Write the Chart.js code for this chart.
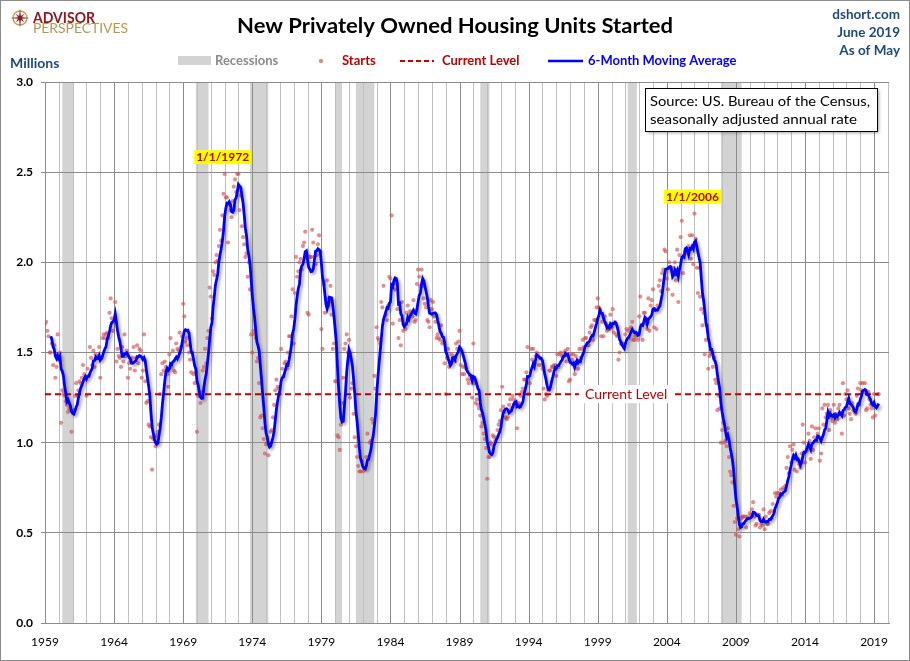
<!DOCTYPE html>
<html>
<head>
<meta charset="utf-8">
<title>New Privately Owned Housing Units Started</title>
<script src="https://cdn.jsdelivr.net/npm/chart.js@4.4.1/dist/chart.umd.min.js"></script>
<style>
    body { margin: 0; background: #ffffff; }
    #wrap { width: 910px; height: 661px; position: relative; }
    canvas { display: block; }
</style>
</head>
<body>
<div id="wrap">
    <canvas id="housingChart" width="910" height="661"></canvas>
</div>
<script>
// ==========================================
// DATA (millions of units, SAAR, monthly from Jan 1959)
// ==========================================

const firstYear = 1959;
const lastGridYear = 2020;

const starts = [
    1.66, 1.67, 1.62, 1.59, 1.50, 1.50, 1.55, 1.43, 1.54, 1.36, 1.42, 1.60, // 1959
    1.46, 1.50, 1.11, 1.29, 1.27, 1.26, 1.23, 1.21, 1.17, 1.19, 1.18, 1.06, // 1960
    1.17, 1.18, 1.26, 1.33, 1.26, 1.29, 1.34, 1.33, 1.36, 1.43, 1.38, 1.36, // 1961
    1.26, 1.41, 1.37, 1.53, 1.47, 1.43, 1.51, 1.42, 1.49, 1.47, 1.48, 1.53, // 1962
    1.36, 1.47, 1.58, 1.60, 1.58, 1.60, 1.61, 1.58, 1.72, 1.80, 1.69, 1.62, // 1963
    1.67, 1.78, 1.45, 1.52, 1.48, 1.47, 1.42, 1.53, 1.45, 1.60, 1.48, 1.51, // 1964
    1.36, 1.44, 1.41, 1.45, 1.47, 1.53, 1.40, 1.47, 1.54, 1.44, 1.52, 1.51, // 1965
    1.36, 1.40, 1.60, 1.34, 1.22, 1.23, 1.10, 1.09, 1.03, 0.85, 1.02, 1.03, // 1966
    0.98, 1.04, 1.06, 1.10, 1.27, 1.38, 1.44, 1.40, 1.45, 1.42, 1.38, 1.31, // 1967
    1.49, 1.58, 1.42, 1.51, 1.40, 1.39, 1.55, 1.52, 1.51, 1.61, 1.53, 1.59, // 1968
    1.77, 1.70, 1.56, 1.58, 1.54, 1.50, 1.46, 1.39, 1.50, 1.38, 1.33, 1.39, // 1969
    1.06, 1.26, 1.26, 1.22, 1.28, 1.40, 1.42, 1.52, 1.44, 1.58, 1.62, 1.86, // 1970
    1.81, 1.69, 1.95, 1.93, 2.00, 2.04, 2.01, 2.09, 2.18, 2.12, 2.26, 2.38, // 1971
    2.49, 2.36, 2.36, 2.11, 2.32, 2.29, 2.25, 2.34, 2.42, 2.46, 2.39, 2.49, // 1972
    2.49, 2.29, 2.37, 2.20, 2.14, 2.10, 2.03, 2.05, 1.92, 2.00, 1.85, 1.60, // 1973
    1.50, 1.62, 1.60, 1.58, 1.45, 1.47, 1.33, 1.14, 1.15, 1.08, 1.02, 0.94, // 1974
    0.99, 1.00, 0.93, 0.98, 1.06, 1.07, 1.14, 1.21, 1.29, 1.35, 1.31, 1.30, // 1975
    1.27, 1.52, 1.41, 1.37, 1.44, 1.45, 1.41, 1.50, 1.59, 1.59, 1.70, 1.85, // 1976
    1.55, 1.83, 2.03, 1.92, 1.95, 2.00, 2.02, 1.96, 2.09, 2.11, 2.17, 2.03, // 1977
    1.72, 1.71, 2.03, 2.03, 2.18, 2.11, 2.03, 1.99, 2.04, 2.10, 2.15, 2.06, // 1978
    1.63, 1.52, 1.88, 1.72, 1.80, 1.90, 1.76, 1.78, 1.87, 1.71, 1.52, 1.55, // 1979
    1.34, 1.34, 1.04, 1.03, 0.96, 1.10, 1.22, 1.36, 1.52, 1.55, 1.60, 1.50, // 1980
    1.57, 1.25, 1.30, 1.33, 1.16, 1.03, 0.98, 0.92, 0.87, 0.84, 0.84, 0.90, // 1981
    0.84, 0.86, 0.85, 0.92, 1.05, 0.92, 1.00, 1.01, 1.13, 1.11, 1.37, 1.30, // 1982
    1.64, 1.58, 1.57, 1.55, 1.78, 1.75, 1.87, 1.70, 1.71, 1.68, 1.76, 1.92, // 1983
    1.91, 2.26, 1.66, 1.88, 1.85, 1.90, 1.74, 1.58, 1.68, 1.54, 1.78, 1.62, // 1984
    1.66, 1.63, 1.72, 1.76, 1.71, 1.73, 1.72, 1.70, 1.79, 1.67, 1.68, 1.88, // 1985
    1.96, 1.92, 1.87, 1.96, 1.87, 1.80, 1.77, 1.75, 1.68, 1.67, 1.64, 1.79, // 1986
    1.74, 1.78, 1.70, 1.67, 1.58, 1.60, 1.58, 1.57, 1.65, 1.55, 1.56, 1.44, // 1987
    1.27, 1.47, 1.52, 1.42, 1.45, 1.49, 1.47, 1.48, 1.45, 1.55, 1.52, 1.56, // 1988
    1.62, 1.43, 1.38, 1.42, 1.38, 1.42, 1.41, 1.35, 1.33, 1.37, 1.35, 1.25, // 1989
    1.55, 1.33, 1.22, 1.24, 1.21, 1.19, 1.15, 1.09, 1.11, 1.05, 1.02, 0.97, // 1990
    0.80, 0.92, 0.92, 1.00, 0.99, 1.04, 1.03, 1.01, 1.03, 1.07, 1.10, 1.12, // 1991
    1.18, 1.31, 1.20, 1.17, 1.14, 1.13, 1.14, 1.21, 1.24, 1.19, 1.26, 1.24, // 1992
    1.20, 1.23, 1.08, 1.21, 1.22, 1.26, 1.28, 1.30, 1.35, 1.35, 1.39, 1.53, // 1993
    1.27, 1.33, 1.52, 1.46, 1.52, 1.44, 1.48, 1.50, 1.49, 1.43, 1.47, 1.43, // 1994
    1.41, 1.30, 1.24, 1.27, 1.26, 1.29, 1.40, 1.40, 1.42, 1.42, 1.43, 1.43, // 1995
    1.37, 1.49, 1.42, 1.49, 1.50, 1.48, 1.48, 1.50, 1.51, 1.45, 1.52, 1.34, // 1996
    1.35, 1.49, 1.46, 1.49, 1.38, 1.48, 1.44, 1.41, 1.52, 1.47, 1.52, 1.57, // 1997
    1.53, 1.58, 1.58, 1.54, 1.54, 1.61, 1.64, 1.65, 1.57, 1.68, 1.68, 1.75, // 1998
    1.80, 1.75, 1.74, 1.59, 1.67, 1.59, 1.70, 1.66, 1.62, 1.63, 1.63, 1.71, // 1999
    1.64, 1.74, 1.61, 1.67, 1.60, 1.59, 1.46, 1.50, 1.55, 1.55, 1.55, 1.53, // 2000
    1.60, 1.63, 1.62, 1.58, 1.63, 1.64, 1.67, 1.57, 1.57, 1.59, 1.60, 1.57, // 2001
    1.70, 1.81, 1.65, 1.57, 1.72, 1.72, 1.66, 1.63, 1.80, 1.62, 1.76, 1.79, // 2002
    1.85, 1.64, 1.74, 1.63, 1.76, 1.87, 1.90, 1.84, 1.94, 1.96, 2.07, 2.06, // 2003
    1.91, 1.85, 2.00, 1.97, 1.97, 1.82, 1.97, 2.00, 1.90, 2.07, 1.78, 2.04, // 2004
    2.14, 2.23, 1.94, 2.04, 2.06, 2.07, 2.05, 2.09, 2.15, 2.02, 2.15, 1.99, // 2005
    2.27, 2.13, 1.97, 1.83, 1.97, 1.81, 1.74, 1.65, 1.72, 1.49, 1.57, 1.65, // 2006
    1.41, 1.48, 1.50, 1.49, 1.42, 1.47, 1.35, 1.33, 1.18, 1.26, 1.19, 1.00, // 2007
    1.07, 1.11, 1.00, 1.01, 0.98, 1.08, 0.92, 0.84, 0.82, 0.78, 0.65, 0.56, // 2008
    0.49, 0.58, 0.52, 0.48, 0.55, 0.58, 0.59, 0.59, 0.59, 0.53, 0.59, 0.58, // 2009
    0.61, 0.60, 0.63, 0.67, 0.59, 0.54, 0.55, 0.60, 0.60, 0.53, 0.55, 0.54, // 2010
    0.63, 0.52, 0.59, 0.55, 0.55, 0.61, 0.62, 0.58, 0.66, 0.62, 0.72, 0.70, // 2011
    0.72, 0.72, 0.70, 0.74, 0.71, 0.75, 0.74, 0.76, 0.86, 0.92, 0.83, 0.98, // 2012
    0.89, 0.96, 0.99, 0.85, 0.92, 0.84, 0.90, 0.88, 0.86, 0.94, 1.10, 1.00, // 2013
    0.89, 0.95, 0.96, 1.05, 1.01, 0.91, 1.09, 0.96, 1.03, 1.08, 1.01, 1.05, // 2014
    1.08, 0.90, 0.94, 1.19, 1.10, 1.21, 1.14, 1.16, 1.21, 1.07, 1.18, 1.14, // 2015
    1.12, 1.21, 1.11, 1.16, 1.13, 1.19, 1.21, 1.16, 1.05, 1.33, 1.15, 1.27, // 2016
    1.24, 1.29, 1.19, 1.16, 1.13, 1.22, 1.18, 1.17, 1.16, 1.26, 1.30, 1.21, // 2017
    1.33, 1.29, 1.33, 1.28, 1.33, 1.18, 1.19, 1.28, 1.24, 1.21, 1.19, 1.14, // 2018
    1.27, 1.15, 1.20, 1.27, 1.269                                           // 2019 (Jan-May)
];

// NBER recessions: [peak year, month], [trough year, month]
const recessions = [
    [[1960, 4], [1961, 2]],
    [[1969, 12], [1970, 11]],
    [[1973, 11], [1975, 3]],
    [[1980, 1], [1980, 7]],
    [[1981, 7], [1982, 11]],
    [[1990, 7], [1991, 3]],
    [[2001, 3], [2001, 11]],
    [[2007, 12], [2009, 6]]
];

// Highlighted peaks
const peakLabels = ['1/1/1972', '1/1/2006'];
const peakDates = [[1972, 1], [2006, 1]];

const yTicks = [0, 0.5, 1.0, 1.5, 2.0, 2.5, 3.0];
const labelEvery = 5;
const maWindow = 6;

// ==========================================
// DERIVED SERIES
// ==========================================

function monthToX(year, month) {
    return year + (month - 1) / 12;
}

function indexToX(i) {
    return firstYear + i / 12;
}

const gridYears = [];
for (let yr = firstYear; yr <= lastGridYear; yr++) gridYears.push(yr);

const startsPoints = starts.map((v, i) => ({ x: indexToX(i), y: v }));

// 6-month trailing average of the starts
const maPoints = [];
for (let i = maWindow - 1; i < starts.length; i++) {
    let sum = 0;
    for (let j = i - maWindow + 1; j <= i; j++) sum += starts[j];
    maPoints.push({ x: indexToX(i), y: sum / maWindow });
}

const currentLevel = starts[starts.length - 1];
const currentPoints = [
    { x: indexToX(0), y: currentLevel },
    { x: indexToX(starts.length - 1), y: currentLevel }
];

// ==========================================
// DRAW HELPERS
// ==========================================

const FONT = 'Lato, "Open Sans", sans-serif';
const DARK_RED = '#c00000';
const NAVY = '#1f497d';

function isLabelYear(v) {
    return Math.abs((v - firstYear) % labelEvery) < 1e-6;
}

// draw text squeezed/stretched to a given width
function fitText(ctx, text, x, y, width, align) {
    const w = ctx.measureText(text).width;
    const sx = width / w;
    ctx.save();
    let left = x;
    if (align === 'center') left = x - width / 2;
    if (align === 'right') left = x - width;
    ctx.translate(left, y);
    ctx.scale(sx, 1);
    ctx.textAlign = 'left';
    ctx.fillText(text, 0, 0);
    ctx.restore();
}

function drawLogo(ctx) {
    const cx = 20, cy = 18;
    ctx.save();
    ctx.strokeStyle = '#c4a25a';
    ctx.lineWidth = 1.6;
    ctx.beginPath();
    ctx.arc(cx, cy, 7, 0, Math.PI * 2);
    ctx.stroke();
    ctx.fillStyle = '#8b1a22';
    ctx.beginPath();
    for (let k = 0; k < 16; k++) {
        const ang = -Math.PI / 2 + k * Math.PI / 8;
        const r = k % 4 === 0 ? 10 : (k % 2 === 0 ? 6 : 2.2);
        const px = cx + r * Math.cos(ang), py = cy + r * Math.sin(ang);
        if (k === 0) ctx.moveTo(px, py); else ctx.lineTo(px, py);
    }
    ctx.closePath();
    ctx.fill();

    ctx.textBaseline = 'alphabetic';
    ctx.fillStyle = '#8b1a22';
    ctx.font = `bold 15px ${FONT}`;
    fitText(ctx, 'ADVISOR', 33, 22.5, 62, 'left');
    ctx.fillStyle = '#b9964a';
    ctx.font = `14px ${FONT}`;
    fitText(ctx, 'PERSPECTIVES', 33, 33, 95, 'left');
    ctx.restore();
}

function drawLegend(ctx) {
    const y = 61;
    ctx.save();
    ctx.font = `bold 13px ${FONT}`;
    ctx.textBaseline = 'middle';

    ctx.fillStyle = '#d3d3d3';
    ctx.fillRect(178, 56, 33, 9);
    ctx.fillStyle = '#8c8c8c';
    ctx.fillText('Recessions', 215, y);

    ctx.fillStyle = 'rgba(200, 80, 80, 0.65)';
    ctx.beginPath();
    ctx.arc(321, y, 2.2, 0, Math.PI * 2);
    ctx.fill();
    ctx.fillStyle = DARK_RED;
    ctx.fillText('Starts', 342, y);

    ctx.strokeStyle = DARK_RED;
    ctx.lineWidth = 2;
    ctx.setLineDash([5, 3]);
    ctx.beginPath();
    ctx.moveTo(400, y);
    ctx.lineTo(434, y);
    ctx.stroke();
    ctx.setLineDash([]);
    ctx.fillText('Current Level', 442, y);

    ctx.strokeStyle = '#0000ff';
    ctx.lineWidth = 2.5;
    ctx.beginPath();
    ctx.moveTo(548, y);
    ctx.lineTo(583, y);
    ctx.stroke();
    ctx.fillStyle = '#0000ff';
    ctx.fillText('6-Month Moving Average', 588, y);
    ctx.restore();
}

function drawSourceBox(ctx) {
    ctx.save();
    ctx.shadowColor = 'rgba(0, 0, 0, 0.35)';
    ctx.shadowBlur = 3;
    ctx.shadowOffsetX = 2;
    ctx.shadowOffsetY = 2;
    ctx.fillStyle = '#ffffff';
    ctx.fillRect(645, 88, 232, 43);
    ctx.restore();
    ctx.save();
    ctx.strokeStyle = '#000000';
    ctx.lineWidth = 1;
    ctx.strokeRect(645.5, 88.5, 232, 43);
    ctx.fillStyle = '#000000';
    ctx.font = `14px ${FONT}`;
    ctx.textBaseline = 'alphabetic';
    fitText(ctx, 'Source: US. Bureau of the Census,', 650, 106, 220, 'left');
    fitText(ctx, 'seasonally adjusted annual rate', 650, 124, 207, 'left');
    ctx.restore();
}

// ==========================================
// PLUGINS
// ==========================================

// white page, recession bands and yearly vertical grid
const backdropPlugin = {
    id: 'backdrop',
    beforeDraw(chart) {
        const { ctx, chartArea: area, scales: { x } } = chart;
        ctx.save();
        ctx.fillStyle = '#ffffff';
        ctx.fillRect(0, 0, chart.width, chart.height);

        ctx.fillStyle = '#d3d3d3';
        recessions.forEach(([from, to]) => {
            const x0 = x.getPixelForValue(monthToX(from[0], from[1]));
            const x1 = x.getPixelForValue(monthToX(to[0], to[1]));
            ctx.fillRect(x0, area.top, x1 - x0, area.bottom - area.top);
        });

        ctx.lineWidth = 1;
        gridYears.forEach(yr => {
            const px = Math.round(x.getPixelForValue(yr)) + 0.5;
            if (px > area.right + 1) return;
            ctx.strokeStyle = isLabelYear(yr) ? '#8c8c8c' : '#c0c0c0';
            ctx.beginPath();
            ctx.moveTo(px, area.top);
            ctx.lineTo(px, area.bottom);
            ctx.stroke();
        });
        ctx.restore();
    }
};

// soft drop shadow under the moving average line
const lineShadowPlugin = {
    id: 'lineShadow',
    beforeDatasetDraw(chart, args) {
        if (chart.data.datasets[args.index].label !== '6-Month Moving Average') return;
        const ctx = chart.ctx;
        ctx.save();
        ctx.shadowColor = 'rgba(0, 0, 0, 0.35)';
        ctx.shadowBlur = 3;
        ctx.shadowOffsetX = 2;
        ctx.shadowOffsetY = 2;
    },
    afterDatasetDraw(chart, args) {
        if (chart.data.datasets[args.index].label !== '6-Month Moving Average') return;
        chart.ctx.restore();
    }
};

const overlayPlugin = {
    id: 'overlay',
    afterDraw(chart) {
        const { ctx, scales: { x, y } } = chart;

        // title
        ctx.save();
        ctx.fillStyle = '#000000';
        ctx.font = `bold 21px ${FONT}`;
        ctx.textBaseline = 'alphabetic';
        fitText(ctx, 'New Privately Owned Housing Units Started', 455, 33, 436, 'center');

        // top right notes
        ctx.fillStyle = NAVY;
        ctx.font = `bold 13.5px ${FONT}`;
        ctx.textAlign = 'right';
        ctx.fillText('dshort.com', 900, 19);
        ctx.fillText('June 2019', 900, 37);
        ctx.fillText('As of May', 900, 55);

        // axis unit
        ctx.textAlign = 'left';
        ctx.font = `bold 14px ${FONT}`;
        ctx.fillText('Millions', 10, 68);
        ctx.restore();

        drawLogo(ctx);
        drawLegend(ctx);
        drawSourceBox(ctx);

        // current level tag on the dashed line
        ctx.save();
        ctx.font = `14px ${FONT}`;
        ctx.textBaseline = 'middle';
        ctx.textAlign = 'center';
        const cx = x.getPixelForValue(2001.05);
        const cy = y.getPixelForValue(currentLevel);
        const tw = ctx.measureText('Current Level').width;
        ctx.fillStyle = '#ffffff';
        ctx.fillRect(cx - tw / 2 - 6, cy - 9, tw + 12, 18);
        ctx.fillStyle = DARK_RED;
        ctx.fillText('Current Level', cx, cy);
        ctx.restore();

        // peak date tags
        ctx.save();
        ctx.font = `bold 12px ${FONT}`;
        ctx.textBaseline = 'middle';
        ctx.textAlign = 'center';
        peakDates.forEach(([yr, mo], k) => {
            const idx = (yr - firstYear) * 12 + (mo - 1);
            const px = x.getPixelForValue(indexToX(idx)) - 2;
            const py = y.getPixelForValue(starts[idx]) - 17;
            const w = ctx.measureText(peakLabels[k]).width + 4;
            ctx.fillStyle = '#ffff00';
            ctx.fillRect(px - w / 2, py - 7, w, 14);
            ctx.fillStyle = DARK_RED;
            ctx.fillText(peakLabels[k], px, py + 0.5);
        });
        ctx.restore();

        // outer frame
        ctx.save();
        ctx.strokeStyle = '#8c8c8c';
        ctx.lineWidth = 1;
        ctx.strokeRect(0.5, 0.5, chart.width - 1, chart.height - 1);
        ctx.restore();
    }
};

// ==========================================
// CHART
// ==========================================

const housingChart = new Chart(document.getElementById('housingChart'), {
    type: 'line',
    data: {
        datasets: [
            {
                label: 'Starts',
                data: startsPoints,
                showLine: false,
                pointRadius: 2.1,
                pointBorderWidth: 0,
                pointBackgroundColor: 'rgba(204, 78, 78, 0.62)',
                order: 3
            },
            {
                label: 'Current Level',
                data: currentPoints,
                borderColor: DARK_RED,
                borderWidth: 2,
                borderDash: [6, 4],
                pointRadius: 0,
                order: 2
            },
            {
                label: '6-Month Moving Average',
                data: maPoints,
                borderColor: '#0000ff',
                borderWidth: 2.8,
                pointRadius: 0,
                tension: 0,
                order: 1
            }
        ]
    },
    options: {
        responsive: false,
        devicePixelRatio: 1,
        animation: false,
        layout: { padding: { left: 0, right: 21, top: 82, bottom: 0 } },
        plugins: {
            legend: { display: false },
            tooltip: { enabled: false }
        },
        scales: {
            x: {
                type: 'linear',
                min: firstYear,
                max: 2020.08,
                afterFit(scale) { scale.height = 38; },
                afterBuildTicks(scale) { scale.ticks = gridYears.map(v => ({ value: v })); },
                border: { display: true, color: '#8c8c8c', width: 1 },
                grid: { display: false },
                ticks: {
                    autoSkip: false,
                    maxRotation: 0,
                    padding: 4,
                    color: '#000000',
                    font: { family: FONT, size: 12 },
                    callback: v => isLabelYear(v) ? String(Math.round(v)) : ''
                }
            },
            y: {
                min: 0,
                max: 3,
                afterFit(scale) { scale.width = 45; },
                afterBuildTicks(scale) { scale.ticks = yTicks.map(v => ({ value: v })); },
                border: { display: true, color: '#8c8c8c', width: 1 },
                grid: {
                    color: '#8c8c8c',
                    lineWidth: 1,
                    drawTicks: true,
                    tickLength: 4,
                    tickColor: '#8c8c8c'
                },
                ticks: {
                    padding: 8,
                    color: '#000000',
                    font: { family: FONT, size: 12, weight: 'bold' },
                    callback: v => Number(v).toFixed(1)
                }
            }
        }
    },
    plugins: [backdropPlugin, lineShadowPlugin, overlayPlugin]
});
</script>
</body>
</html>
